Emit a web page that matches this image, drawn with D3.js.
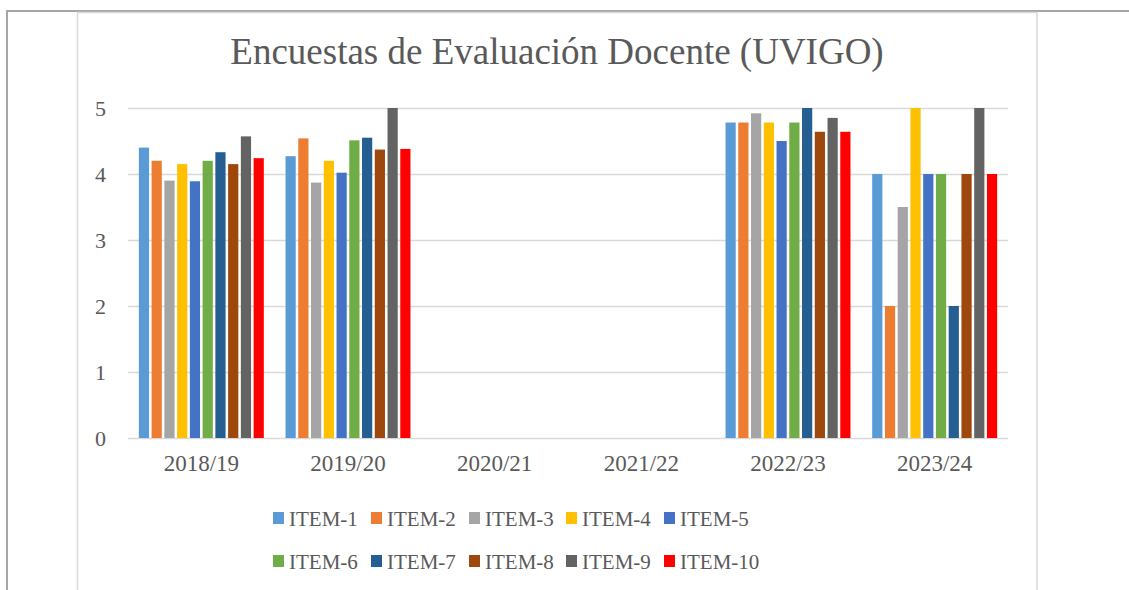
<!DOCTYPE html>
<html>
<head>
<meta charset="utf-8">
<script src="https://cdn.jsdelivr.net/npm/d3@7"></script>
<style>
  html, body { margin: 0; padding: 0; background: #fff; }
  svg { display: block; }
</style>
</head>
<body>
<svg id="chart" width="1129" height="590"></svg>
<script>
const title = "Encuestas de Evaluación Docente (UVIGO)";
const categories = ["2018/19", "2019/20", "2020/21", "2021/22", "2022/23", "2023/24"];
const seriesNames = ["ITEM-1","ITEM-2","ITEM-3","ITEM-4","ITEM-5","ITEM-6","ITEM-7","ITEM-8","ITEM-9","ITEM-10"];
const colors = ["#5B9BD5","#ED7D31","#A5A5A5","#FFC000","#4472C4","#70AD47","#255E91","#9E480E","#636363","#FF0000"];
// values per item, one per category (null = no data)
const item1  = [4.40, 4.27, null, null, 4.78, 4.0];
const item2  = [4.20, 4.54, null, null, 4.78, 2.0];
const item3  = [3.90, 3.87, null, null, 4.92, 3.5];
const item4  = [4.15, 4.20, null, null, 4.78, 5.0];
const item5  = [3.89, 4.02, null, null, 4.50, 4.0];
const item6  = [4.20, 4.51, null, null, 4.78, 4.0];
const item7  = [4.33, 4.55, null, null, 5.00, 2.0];
const item8  = [4.15, 4.37, null, null, 4.64, 4.0];
const item9  = [4.57, 5.00, null, null, 4.85, 5.0];
const item10 = [4.24, 4.38, null, null, 4.64, 4.0];
const yTicks = [0, 1, 2, 3, 4, 5];

const seriesValues = [item1,item2,item3,item4,item5,item6,item7,item8,item9,item10];
const FONT = '"Liberation Serif"';
const TXT = "#595959";

const svg = d3.select("#chart");

// outer frame lines
svg.append("line").attr("x1", 7).attr("x2", 1129).attr("y1", 11).attr("y2", 11)
  .attr("stroke", "#a6a6a6").attr("stroke-width", 2);
svg.append("line").attr("x1", 7).attr("x2", 7).attr("y1", 10).attr("y2", 590)
  .attr("stroke", "#a6a6a6").attr("stroke-width", 2);
// inner chart box
svg.append("rect").attr("x", 77.5).attr("y", 12.5).attr("width", 959.5).attr("height", 600)
  .attr("fill", "#fff").attr("stroke", "#d9d9d9").attr("stroke-width", 1.5);

const x0 = d3.scaleBand().domain(categories).range([128, 1008]).paddingInner(0.148).paddingOuter(0.074);
const x1 = d3.scaleBand().domain(seriesNames).range([0, x0.bandwidth()]).paddingInner(0.2).paddingOuter(0);
const y = d3.scaleLinear().domain([0, 5]).range([438, 108]);

// gridlines + y labels
const yAxis = d3.axisLeft(y).tickValues(yTicks).tickSize(-(1008 - 128)).tickFormat(d3.format("d")).tickPadding(22);
const gy = svg.append("g").attr("transform", "translate(128,0)").call(yAxis)
  .attr("font-family", null).attr("font-size", null);
gy.select(".domain").remove();
gy.selectAll(".tick line").attr("stroke", "#d9d9d9").attr("stroke-width", 1.5);
gy.selectAll(".tick text").style("font-family", FONT).style("font-size", "22px").style("fill", TXT)
  .attr("dy", "0.34em");

// bars
const groups = svg.append("g").selectAll("g").data(categories).join("g")
  .attr("transform", d => `translate(${x0(d)},0)`);
groups.selectAll("rect")
  .data((c, ci) => seriesNames.map((s, si) => ({ s, si, v: seriesValues[si][ci] })).filter(d => d.v != null))
  .join("rect")
  .attr("x", d => x1(d.s))
  .attr("width", x1.bandwidth())
  .attr("y", d => y(d.v))
  .attr("height", d => y(0) - y(d.v))
  .attr("fill", d => colors[d.si]);

// x axis labels
const xAxis = d3.axisBottom(x0).tickSize(0).tickPadding(17);
const gx = svg.append("g").attr("transform", "translate(0,438)").call(xAxis)
  .attr("font-family", null).attr("font-size", null);
gx.select(".domain").remove();
gx.selectAll(".tick text").style("font-family", FONT).style("font-size", "23px").style("fill", TXT);

// title
svg.append("text").attr("x", 557).attr("y", 64).attr("text-anchor", "middle")
  .style("font-family", FONT).style("font-size", "37px").style("fill", TXT).text(title);

// legend
const legendX = [273, 371, 469, 566, 664];
const legendRowY = [518, 561];
const lg = svg.append("g").selectAll("g").data(seriesNames).join("g")
  .attr("transform", (d, i) => `translate(${legendX[i % 5]},${legendRowY[Math.floor(i / 5)]})`);
lg.append("rect").attr("x", 0).attr("y", -6).attr("width", 11).attr("height", 12)
  .attr("fill", (d, i) => colors[i]);
lg.append("text").attr("x", 16).attr("y", 8)
  .style("font-family", FONT).style("font-size", "21px").style("fill", TXT).text(d => d);
</script>
</body>
</html>
